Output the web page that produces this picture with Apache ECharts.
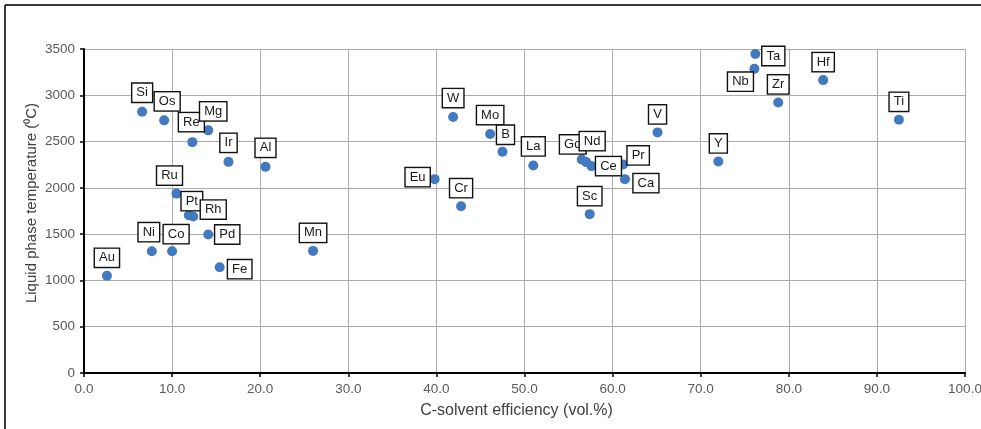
<!DOCTYPE html>
<html>
<head>
<meta charset="utf-8">
<script src="https://cdn.jsdelivr.net/npm/echarts@6/dist/echarts.min.js"></script>
<style>
html,body{margin:0;padding:0;background:#fff;}
#c{width:981px;height:429px;}
</style>
</head>
<body>
<div id="c"></div>
<script>
// ---- data ----
const elements = ['Au','Ni','Co','Pd','Fe','Mn','Pt','Rh','Ru','Si','Os','Re','Mg','Ir','Al',
  'W','Mo','B','La','Eu','Cr','Gd','Nd','Ce','Pr','Ca','Sc','V','Ta','Nb','Zr','Hf','Ti','Y'];
const efficiency = [2.6,7.7,10.0,14.1,15.4,26.0,11.9,12.4,10.5,6.6,9.1,12.3,14.1,16.4,20.6,
  41.9,46.1,47.5,51.0,39.8,42.8,56.5,57.0,57.6,61.2,61.4,57.4,65.1,76.2,76.1,78.8,83.9,92.5,72.0];
const temperature = [1050,1316,1316,1496,1143,1319,1705,1690,1938,2822,2729,2494,2621,2281,2227,
  2765,2581,2390,2242,2094,1802,2307,2278,2235,2253,2094,1716,2599,3446,3287,2923,3164,2735,2285];
const xTicks = {min:0, max:100, step:10};
const yTicks = {min:0, max:3500, step:500};

// label box offsets (pixels, relative to the dot)
const labelOffsets = {
  Au:[0,-18], Ni:[-3,-19], Co:[4,-17], Pd:[19,0], Fe:[20,2], Mn:[0,-18],
  Pt:[3,-14], Rh:[20,-7], Ru:[-7,-18], Si:[0,-19], Os:[3,-19], Re:[-1,-20],
  Mg:[5,-19], Ir:[0,-19], Al:[0,-19], W:[0,-19], Mo:[0,-19], B:[3,-17],
  La:[0,-19], Eu:[-17,-2], Cr:[0,-18], Gd:[-9,-15], Nd:[6,-21], Ce:[17,0],
  Pr:[15,-9], Ca:[21,4], Sc:[0,-18], V:[0,-18], Ta:[18,2], Nb:[-14,13],
  Zr:[0,-18], Hf:[0,-18], Ti:[0,-18], Y:[0,-18]
};

const pts = elements.map((n,i)=>({name:n, value:[efficiency[i], temperature[i]]}));

const chart = echarts.init(document.getElementById('c'), null, {renderer:'canvas'});
chart.setOption({
  animation:false,
  textStyle:{fontFamily:'"Liberation Sans", Arial, sans-serif'},
  grid:{left:84, right:16, top:49, bottom:56, containLabel:false, outerBoundsMode:'none'},
  xAxis:{
    type:'value', min:xTicks.min, max:xTicks.max, interval:xTicks.step,
    name:'C-solvent efficiency (vol.%)', nameLocation:'middle', nameGap:30, nameMoveOverlap:false,
    nameTextStyle:{fontSize:16, color:'#404040', padding:[0,16,0,0]},
    axisLine:{show:true, onZero:false, lineStyle:{color:'#000', width:2}},
    axisTick:{show:true, length:4, lineStyle:{color:'#000', width:1.5}},
    axisLabel:{fontSize:13.5, color:'#595959', margin:9, formatter:v=>v.toFixed(1)},
    splitLine:{show:true, lineStyle:{color:'#ababab', width:1}}
  },
  yAxis:{
    type:'value', min:yTicks.min, max:yTicks.max, interval:yTicks.step,
    name:'Liquid phase temperature (\u2070C)', nameLocation:'middle', nameGap:45, nameRotate:90, nameMoveOverlap:false,
    nameTextStyle:{fontSize:15, color:'#404040', padding:[0,0,0,16]},
    axisLine:{show:true, onZero:false, lineStyle:{color:'#000', width:2}},
    axisTick:{show:true, length:4, lineStyle:{color:'#000', width:1.5}},
    axisLabel:{fontSize:13.5, color:'#595959', margin:9, formatter:v=>String(v)},
    splitLine:{show:true, lineStyle:{color:'#ababab', width:1}}
  },
  series:[{
    type:'scatter',
    symbolSize:10,
    itemStyle:{color:'#4279c0', opacity:1},
    data:pts,
    label:{
      show:true, position:'inside',
      formatter:p=>p.name,
      fontSize:13, color:'#1a1a1a',
      backgroundColor:'#fff', borderColor:'#111', borderWidth:1.4,
      padding:[3,4,2,4]
    },
    labelLayout:function(p){
      const o = labelOffsets[elements[p.dataIndex]] || [0,-18];
      return {dx:o[0], dy:o[1], hideOverlap:false};
    },
    z:3
  }],
  graphic:[
    {type:'line', shape:{x1:5, y1:5, x2:981, y2:5}, style:{stroke:'#3a3a3a', lineWidth:2}, silent:true},
    {type:'line', shape:{x1:5, y1:5, x2:5, y2:429}, style:{stroke:'#3a3a3a', lineWidth:2}, silent:true}
  ]
});
</script>
</body>
</html>
